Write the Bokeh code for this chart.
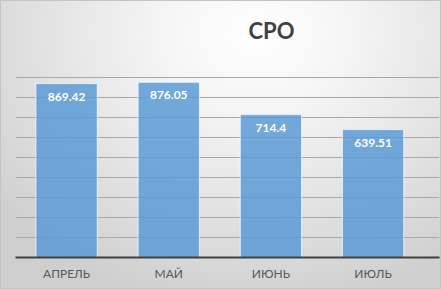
from bokeh.plotting import figure
from bokeh.models import ColumnDataSource, FixedTicker, SingleIntervalTicker, Range1d
from bokeh.core.properties import value
from bokeh.embed import file_html
from bokeh.resources import INLINE

categories = ["АПРЕЛЬ", "МАЙ", "ИЮНЬ", "ИЮЛЬ"]
values = [869.42, 876.05, 714.4, 639.51]
value_labels = ["869.42", "876.05", "714.4", "639.51"]
title_text = "СРО"

xs = list(range(len(categories)))
src = ColumnDataSource(dict(x=xs, top=values, lab=value_labels))

p = figure(width=441, height=289, output_backend="svg", toolbar_location=None,
           x_range=Range1d(-0.5, 3.65), y_range=Range1d(0, 1000),
           min_border_left=15, min_border_right=2, min_border_top=57, min_border_bottom=32,
           title=title_text,
           styles={"background": "radial-gradient(ellipse 75% 95% at 58% 12%, #ffffff 0%, #f4f4f4 30%, #e2e2e2 65%, #cfcfcf 100%)",
                   "box-shadow": "inset 0 0 0 1px #c4c4c4"})
p.background_fill_alpha = 0
p.border_fill_alpha = 0
p.outline_line_color = None

p.title.align = "left"
p.title.offset = 233
p.title.text_font = "Lato"
p.title.text_font_style = "bold"
p.title.text_font_size = "22px"
p.title.text_color = "#404040"
p.title.standoff = 27

p.vbar(x="x", top="top", width=0.6, source=src, fill_color="#5b9bd5", fill_alpha=0.85,
       line_color="#ffffff", line_alpha=0.7, line_width=1)
p.text(x="x", y="top", text="lab", source=src, text_align="center", text_baseline="middle",
       y_offset=13, text_color="#ffffff", text_font=value("Lato"), text_font_style="bold",
       text_font_size="12px")

p.yaxis.visible = False
p.xgrid.visible = False
p.ygrid.ticker = SingleIntervalTicker(interval=100)
p.ygrid.grid_line_color = "#a8a8a8"
p.ygrid.grid_line_width = 1

ax = p.xaxis[0]
ax.ticker = FixedTicker(ticks=xs)
ax.major_label_overrides = {i: c for i, c in zip(xs, categories)}
ax.major_tick_in = 0
ax.major_tick_out = 0
ax.minor_tick_in = 0
ax.minor_tick_out = 0
ax.axis_line_color = "#404040"
ax.axis_line_width = 2
ax.major_label_standoff = 8
ax.major_label_text_font = "Lato"
ax.major_label_text_font_size = "12px"
ax.major_label_text_color = "#595959"

open("out.html", "w").write(file_html(p, INLINE))
